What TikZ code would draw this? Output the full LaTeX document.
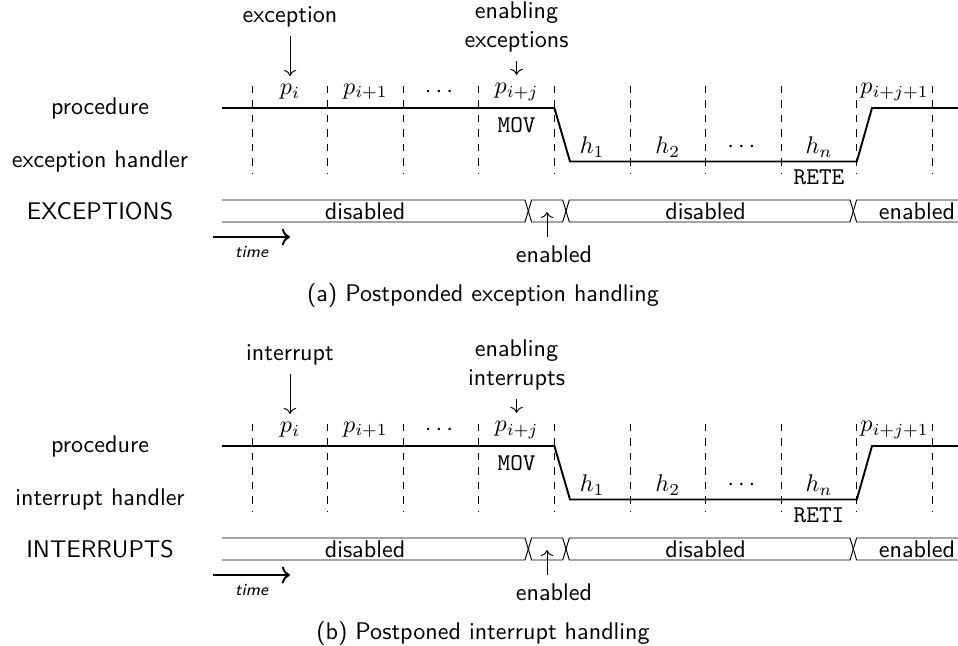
\documentclass[tikz,border=0pt]{standalone}
\usepackage{amsmath}
\usepackage{tikz}
\usetikzlibrary{arrows.meta, positioning}

\begin{document}
\begin{tikzpicture}[
  x=0.415pt, y=-0.415pt,
  font=\sffamily,
  grid/.style={dashed, thin},
  level/.style={thick},
  bus/.style={thin},
  arrow/.style={->},
  code/.style={font=\ttfamily}
]
\useasboundingbox (0,0) rectangle (958,646);

\foreach \pn/\dy/\ev/\EV/\rt/\capt in {
  a/0/exception/EXCEPTIONS/RETE/{(a) Postponded exception handling},
  b/338/interrupt/INTERRUPTS/RETI/{(b) Postponed interrupt handling}} {
\begin{scope}[shift={(0,\dy)}]
% row names
\node (\pn-proc) at (100,108) {procedure};
\node (\pn-hand) at (100,161) {\ev{} handler};
\node (\pn-sig) at (100,211) {\EV};

% time slots
\foreach \k in {0,...,9}
  \draw[grid] ({252+75.6*\k},86) -- ({252+75.6*\k},173);

\node (\pn-p1) at (290,92) {$p_i$};
\node (\pn-p2) at (365.4,92) {$p_{i+1}$};
\node (\pn-p3) at (441,92) {$\cdots$};
\node (\pn-p4) at (516.6,92) {$p_{i+j}$};
\node (\pn-p5) at (894.6,92) {$p_{i+j+1}$};
\node[code] (\pn-mov) at (516.6,125) {MOV};
\node (\pn-h1) at (592.2,147) {$h_1$};
\node (\pn-h2) at (667.8,147) {$h_2$};
\node (\pn-h3) at (743.4,147) {$\cdots$};
\node (\pn-hn) at (819,147) {$h_n$};
\node[code] (\pn-ret) at (819,177) {\rt};

\draw[level] (222,108) -- (554.4,108) -- (570,161.5) -- (856.8,161.5) -- (872,108) -- (958,108);

% events
\node (\pn-ev) at (290,17) {\ev};
\node[align=center] (\pn-en) at (516.6,27) {enabling\\\ev s};
\draw[arrow] (\pn-ev) -- (\pn-p1);
\draw[arrow] (\pn-en) -- (\pn-p4);

% enable signal
\draw[bus] (222,200) -- (525,200) -- (531.6,222) -- (562.7,222) -- (569.3,200)
  -- (850,200) -- (856.6,222) -- (958,222);
\draw[bus] (222,222) -- (525,222) -- (531.6,200) -- (562.7,200) -- (569.3,222)
  -- (850,222) -- (856.6,200) -- (958,200);
\node (\pn-off1) at (365,211) {disabled};
\node (\pn-off2) at (705.5,211) {disabled};
\node (\pn-on2) at (917,211) {enabled};
\coordinate (\pn-on) at (547,212);
\node (\pn-on1) at (554,254) {enabled};
\draw[arrow] (\pn-on1.north -| \pn-on) -- (\pn-on);

\coordinate (\pn-t0) at (213,237);
\coordinate (\pn-t1) at (290,237);
\draw[thick, ->] (\pn-t0) -- node[below, font=\sffamily\scriptsize\itshape] (\pn-time) {time} (\pn-t1);

\node (\pn-cap) at (483,295) {\capt};
\end{scope}
}
\end{tikzpicture}
\end{document}
